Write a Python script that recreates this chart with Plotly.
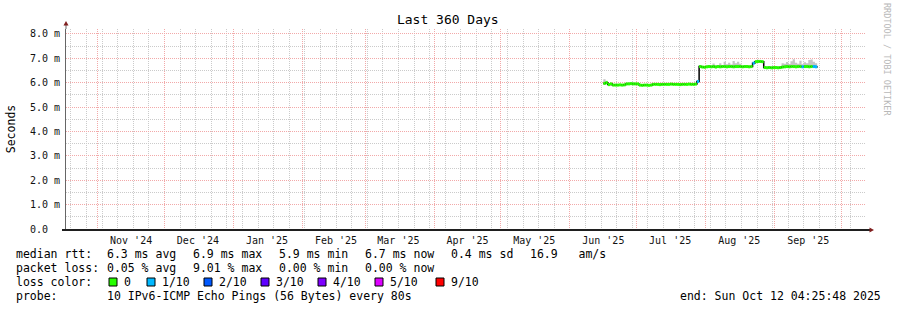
import plotly.graph_objects as go
import pandas as pd

# ---------------- data ----------------
first_day = "2025-06-16"          # first daily sample
median_ms = [
    5.97, 6.00, 5.92, 5.95, 5.90, 5.90, 5.90,   # Jun 16-22
    5.91, 5.90, 5.91, 5.95, 5.95, 5.96, 5.95,   # Jun 23-29
    5.95, 5.95, 5.90, 5.89, 5.90, 5.90, 5.89,   # Jun 30-Jul 6
    5.90, 5.93, 5.93, 5.93, 5.92, 5.93, 5.93,   # Jul 7-13
    5.93, 5.93, 5.94, 5.93, 5.93, 5.93, 5.92,   # Jul 14-20
    5.93, 5.93, 5.93, 5.94, 5.93, 5.93, 5.94,   # Jul 21-27
    6.05, 6.66, 6.64, 6.63, 6.65, 6.66, 6.65,   # Jul 28-Aug 3
    6.66, 6.64, 6.66, 6.65, 6.66, 6.66, 6.65,   # Aug 4-10
    6.66, 6.66, 6.65, 6.66, 6.66, 6.66, 6.65,   # Aug 11-17
    6.66, 6.66, 6.65, 6.66, 6.80, 6.86, 6.87,   # Aug 18-24
    6.87, 6.86, 6.62, 6.61, 6.62, 6.61, 6.62,   # Aug 25-31
    6.62, 6.61, 6.62, 6.64, 6.65, 6.66, 6.65,   # Sep 1-7
    6.66, 6.66, 6.65, 6.66, 6.66, 6.65, 6.66,   # Sep 8-14
    6.66, 6.65, 6.66, 6.66, 6.65, 6.66,         # Sep 15-20
]
smoke_top_ms = [
    6.14, 6.08, 5.96, 5.99, 5.94, 5.94, 5.94,
    5.95, 5.94, 5.95, 6.00, 6.02, 6.01, 6.02,
    6.00, 5.99, 5.94, 5.93, 5.94, 5.94, 5.93,
    5.94, 5.97, 5.97, 5.97, 5.96, 5.97, 5.97,
    5.97, 5.97, 5.98, 5.97, 5.97, 5.97, 5.96,
    5.97, 5.97, 5.97, 5.98, 5.97, 5.97, 5.98,
    6.09, 6.70, 6.68, 6.67, 6.69, 6.70, 6.69,
    6.79, 6.70, 6.70, 6.80, 6.72, 6.86, 6.75,
    6.82, 6.74, 6.89, 6.80, 6.86, 6.78, 6.69,
    6.70, 6.70, 6.69, 6.70, 6.84, 6.90, 6.91,
    6.91, 6.90, 6.66, 6.65, 6.66, 6.65, 6.66,
    6.66, 6.65, 6.66, 6.80, 6.78, 6.85, 6.76,
    6.88, 6.96, 6.82, 6.78, 6.90, 6.75, 6.84,
    6.80, 6.93, 6.95, 6.86, 6.80, 6.70,
]
loss_of_10 = [
    0, 0, 0, 0, 0, 0, 0,
    0, 0, 0, 0, 0, 0, 0,
    0, 0, 0, 0, 0, 0, 0,
    0, 0, 0, 0, 0, 0, 0,
    0, 0, 0, 0, 0, 0, 0,
    0, 0, 0, 0, 0, 0, 0,
    1, 0, 0, 0, 0, 0, 0,
    0, 0, 0, 0, 0, 0, 0,
    0, 0, 0, 0, 0, 0, 0,
    0, 0, 0, 0, 1, 0, 0,
    0, 0, 0, 0, 0, 0, 0,
    0, 0, 0, 0, 0, 0, 0,
    0, 0, 0, 0, 0, 1, 0,
    0, 0, 0, 1, 1, 0,
]

month_starts = ["2024-11-01", "2024-12-01", "2025-01-01", "2025-02-01", "2025-03-01",
                "2025-04-01", "2025-05-01", "2025-06-01", "2025-07-01", "2025-08-01",
                "2025-09-01", "2025-10-01"]
month_label_pos = ["2024-11-16", "2024-12-16", "2025-01-16", "2025-02-16", "2025-03-16",
                   "2025-04-16", "2025-05-16", "2025-06-16", "2025-07-16", "2025-08-16",
                   "2025-09-16"]
month_labels = ["Nov '24", "Dec '24", "Jan '25", "Feb '25", "Mar '25", "Apr '25",
                "May '25", "Jun '25", "Jul '25", "Aug '25", "Sep '25"]
y_tick_vals = [0, 1, 2, 3, 4, 5, 6, 7, 8]
y_tick_text = ["0.0  ", "1.0 m", "2.0 m", "3.0 m", "4.0 m", "5.0 m", "6.0 m", "7.0 m", "8.0 m"]

loss_levels = ["0", "1/10", "2/10", "3/10", "4/10", "5/10", "9/10"]
loss_level_num = [0, 1, 2, 3, 4, 5, 9]
loss_colors = ["#26ff00", "#00b8ff", "#0059ff", "#5e00ff", "#7e00ff", "#dd00ff", "#ff0000"]

rtt_fields = ["6.3 ms avg", "6.9 ms max", "5.9 ms min", "6.7 ms now", "0.4 ms sd", "16.9   am/s"]
loss_fields = ["0.05 % avg", "9.01 % max", "0.00 % min", "0.00 % now"]
probe_text = "10 IPv6-ICMP Echo Pings (56 Bytes) every 80s"
end_text = "end: Sun Oct 12 04:25:48 2025"
title_text = "Last 360 Days"

# ---------------- geometry helpers ----------------
W, H = 897, 310
PL, PR, PT, PB = 66, 866, 29, 229
X_RANGE = ["2024-10-17 18:30", "2025-10-11 22:00"]
Y_RANGE = [0, 8.2]
MONO = "DejaVu Sans Mono"


def fx(p):
    return (p - PL) / (PR - PL)


def fy(p):
    return (PB - p) / (PB - PT)


dates = pd.date_range(first_day, periods=len(median_ms), freq="D")

fig = go.Figure()

# smoke (gray band above median)
fig.add_trace(go.Scatter(x=dates, y=median_ms, mode="lines",
                         line=dict(width=0, shape="hv"), hoverinfo="skip", showlegend=False))
fig.add_trace(go.Scatter(x=dates, y=smoke_top_ms, mode="lines", fill="tonexty",
                         fillcolor="#c4c4c4", line=dict(width=0, shape="hv"),
                         hoverinfo="skip", showlegend=False))
# thin black median line
fig.add_trace(go.Scatter(x=dates, y=median_ms, mode="lines",
                         line=dict(color="#000000", width=1.5, shape="hv"),
                         hoverinfo="skip", showlegend=False))

# loss coloured median segments (horizontal steps only)
for lvl, col in zip(loss_level_num, loss_colors):
    xs, ys = [], []
    for i in range(len(median_ms) - 1):
        if loss_of_10[i] == lvl:
            xs += [dates[i], dates[i + 1], None]
            ys += [median_ms[i], median_ms[i], None]
    if xs:
        fig.add_trace(go.Scatter(x=xs, y=ys, mode="lines",
                                 line=dict(color=col, width=3),
                                 hoverinfo="skip", showlegend=False, connectgaps=False))

# invisible trace that carries the label axis
fig.add_trace(go.Scatter(x=[dates[0]], y=[median_ms[0]], xaxis="x2", mode="markers",
                         marker=dict(opacity=0), hoverinfo="skip", showlegend=False))

GRID_GRAY = "#cbcbcb"
GRID_RED = "#f2a9a9"
DASH = "1px,1px"

fig.update_layout(
    width=W, height=H,
    margin=dict(l=PL, r=W - PR, t=PT, b=H - PB, pad=0),
    paper_bgcolor="white", plot_bgcolor="white",
    showlegend=False,
    font=dict(family=MONO, color="#000000"),
    title=dict(text=title_text, x=447.8 / W, xanchor="center", y=1 - 19 / H,
               yanchor="middle", yref="container", font=dict(size=13, family=MONO, color="#000")),
    xaxis=dict(
        type="date", range=X_RANGE,
        tickmode="array", tickvals=month_starts, showticklabels=False, ticks="",
        showgrid=True, gridcolor=GRID_RED, griddash=DASH, gridwidth=1,
        minor=dict(tickmode="linear", tick0="2024-10-20", dtick=7 * 86400000,
                   showgrid=True, gridcolor=GRID_GRAY, griddash=DASH, gridwidth=1, ticks=""),
        showline=True, linecolor="#1f1f1f", linewidth=2, zeroline=False,
    ),
    xaxis2=dict(
        type="date", overlaying="x", matches="x", side="bottom", anchor="y",
        tickmode="array", tickvals=month_label_pos, ticktext=month_labels,
        showgrid=False, showline=False, zeroline=False,
        ticks="outside", ticklen=2, tickcolor="rgba(0,0,0,0)",
        tickfont=dict(family=MONO, size=10, color="#111"),
    ),
    yaxis=dict(
        range=Y_RANGE, tickmode="array", tickvals=y_tick_vals,
        ticktext=[t.replace(" ", "\u00a0") for t in y_tick_text],
        showgrid=True, gridcolor=GRID_RED, griddash=DASH, gridwidth=1,
        minor=dict(tickmode="linear", tick0=0, dtick=0.5, showgrid=True,
                   gridcolor=GRID_GRAY, griddash=DASH, gridwidth=1, ticks=""),
        showline=True, linecolor="#666666", linewidth=1, zeroline=False,
        ticks="outside", ticklen=3, tickcolor="rgba(0,0,0,0)",
        tickfont=dict(family=MONO, size=10, color="#111"),
        title=dict(text="Seconds", standoff=11, font=dict(family=MONO, size=11.5, color="#000")),
    ),
)

ann = []


def note(text, xp, yp, size=11.5, anchor="left", color="#000000", angle=0):
    ann.append(dict(xref="paper", yref="paper", x=fx(xp), y=fy(yp),
                    text=text.replace(" ", "\u00a0"), showarrow=False,
                    xanchor=anchor, yanchor="middle", borderpad=0, borderwidth=0,
                    textangle=angle, font=dict(family=MONO, size=size, color=color)))


LEG_X = 16
FIELD_X = [107.3, 193.3, 279.3, 365.3, 451, 530]
ROW_Y = [254, 268, 282, 296]

note("median rtt:", LEG_X, ROW_Y[0])
for t, xp in zip(rtt_fields, FIELD_X):
    note(t, xp, ROW_Y[0])
note("packet loss:", LEG_X, ROW_Y[1])
for t, xp in zip(loss_fields, FIELD_X):
    note(t, xp, ROW_Y[1])
note("loss color:", LEG_X, ROW_Y[2])
note("probe:", LEG_X, ROW_Y[3])
note(probe_text, FIELD_X[0], ROW_Y[3])
note(end_text, 881, ROW_Y[3], anchor="right")
note("RRDTOOL / TOBI OETIKER", 887, 59, size=8.5, anchor="center", color="#b8b8b8", angle=90)

shapes = []
SQ_X = [109, 147, 204, 261, 318, 375, 436]
for lab, col, sx in zip(loss_levels, loss_colors, SQ_X):
    shapes.append(dict(type="rect", xref="paper", yref="paper",
                       xsizemode="pixel", ysizemode="pixel",
                       xanchor=fx(sx), yanchor=fy(ROW_Y[2]),
                       x0=0, x1=8, y0=-4, y1=4,
                       fillcolor=col, line=dict(color="#000000", width=1)))
    note(lab, sx + 14.5, ROW_Y[2])

ARROW = "#801f1f"
# y-axis extension + arrow
shapes.append(dict(type="line", xref="paper", yref="paper", ysizemode="pixel", yanchor=1,
                   x0=0, x1=0, y0=0, y1=4, line=dict(color="#666666", width=1)))
shapes.append(dict(type="path", xref="paper", yref="paper", xsizemode="pixel", ysizemode="pixel",
                   xanchor=0, yanchor=1, path="M-2.5,3.5 L2.5,3.5 L0,8 Z",
                   fillcolor=ARROW, line=dict(width=0)))
# x-axis extension + arrow
shapes.append(dict(type="line", xref="paper", yref="paper", xsizemode="pixel", ysizemode="pixel",
                   xanchor=1, yanchor=0, x0=0, x1=4, y0=-1, y1=-1,
                   line=dict(color="#1f1f1f", width=2)))
shapes.append(dict(type="line", xref="paper", yref="paper", xsizemode="pixel", ysizemode="pixel",
                   xanchor=0, yanchor=0, x0=-4, x1=0, y0=-1, y1=-1,
                   line=dict(color="#1f1f1f", width=2)))
shapes.append(dict(type="path", xref="paper", yref="paper", xsizemode="pixel", ysizemode="pixel",
                   xanchor=1, yanchor=0, path="M3.5,1.5 L3.5,-3.5 L8,-1 Z",
                   fillcolor=ARROW, line=dict(width=0)))

fig.update_layout(annotations=ann, shapes=shapes)
fig.write_html("out.html")
